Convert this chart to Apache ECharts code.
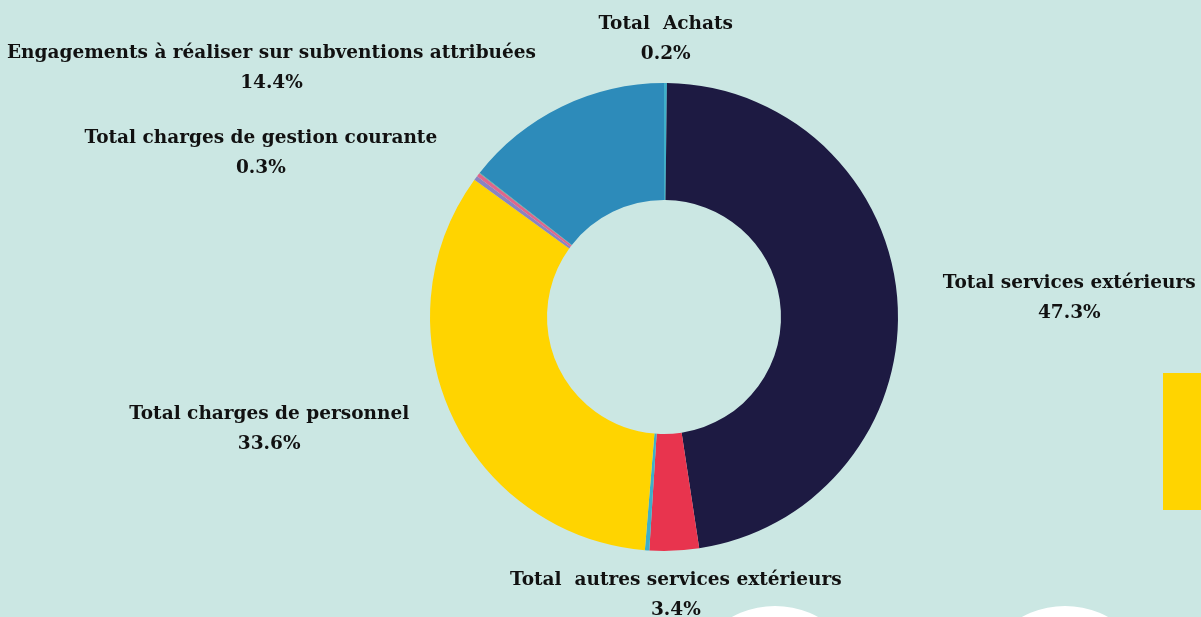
<!DOCTYPE html>
<html>
<head>
<meta charset="utf-8">
<script src="https://cdn.jsdelivr.net/npm/echarts@6/dist/echarts.min.js"></script>
<style>
  html, body { margin: 0; padding: 0; background: #cbe7e3; }
  #chart { width: 1201px; height: 617px; }
</style>
</head>
<body>
<div id="chart"></div>
<script>
// Data (clockwise from the top)
const categories = [
  "Total  Achats",
  "Total services extérieurs",
  "Total  autres services extérieurs",
  "Autres charges",
  "Total charges de personnel",
  "Total charges de gestion courante",
  "Charges diverses",
  "Charges exceptionnelles",
  "Engagements à réaliser sur subventions attribuées"
];
const values = [0.2, 47.3, 3.4, 0.3, 33.6, 0.3, 0.25, 0.05, 14.4];
const showLabel = [true, true, true, false, true, true, false, false, true];
const colors = ["#3fafc9", "#1d1a42", "#e8344e", "#3fafc9", "#ffd400", "#8a84c0", "#e0668c", "#5fae8c", "#2d8bba"];

const CX = 664, CY = 317, R_IN = 117, R_OUT = 234;
const LEN = 35.5, LEN2 = 10;
const total = values.reduce((a, b) => a + b, 0);
const midAngles = [];
(function () {
  let cum = 0;
  values.forEach(v => { midAngles.push((cum + v / 2) / total * Math.PI * 2); cum += v; });
})();

const FONT = "DejaVu Serif";
const FS = 18.5;
const chart = echarts.init(document.getElementById('chart'), null, { renderer: 'canvas' });
chart.setOption({
  backgroundColor: '#cbe7e3',
  animation: false,
  graphic: [
    { type: 'rect', shape: { x: 1163, y: 373, width: 40, height: 137 }, style: { fill: '#ffd400' }, z: 0 },
    { type: 'circle', shape: { cx: 775, cy: 696, r: 90 }, style: { fill: '#ffffff' }, z: 0 },
    { type: 'circle', shape: { cx: 1065, cy: 696, r: 90 }, style: { fill: '#ffffff' }, z: 0 }
  ],
  series: [{
    type: 'pie',
    center: [CX, CY],
    radius: [R_IN, R_OUT],
    startAngle: 90,
    clockwise: true,
    avoidLabelOverlap: false,
    data: categories.map((n, i) => ({
      name: n,
      value: values[i],
      itemStyle: { color: colors[i] },
      label: { show: showLabel[i] }
    })),
    label: {
      position: 'outside',
      formatter: '{n|{b}}\n{v|{c}%}',
      rich: {
        n: { fontFamily: FONT, fontWeight: 'bold', fontSize: FS, lineHeight: 30, color: '#111', align: 'center' },
        v: { fontFamily: FONT, fontWeight: 'bold', fontSize: FS, lineHeight: 30, color: '#111', align: 'center' }
      }
    },
    labelLine: { show: false, length: 35, length2: 5 },
    labelLayout: function (p) {
      const a = midAngles[p.dataIndex];
      const dx = Math.sin(a), dy = -Math.cos(a);
      const rr = R_OUT + LEN;
      const px = CX + rr * dx, py = CY + rr * dy;
      if (Math.abs(dx) < 0.3) {
        return { x: px, y: py + dy * 8.5, align: 'center', verticalAlign: 'middle' };
      }
      return {
        x: px + (dx < 0 ? -LEN2 : LEN2),
        y: py + (dy < -0.5 ? dy * 7 : 0),
        align: dx < 0 ? 'right' : 'left',
        verticalAlign: 'middle'
      };
    },
    emphasis: { disabled: true }
  }]
});
</script>
</body>
</html>
